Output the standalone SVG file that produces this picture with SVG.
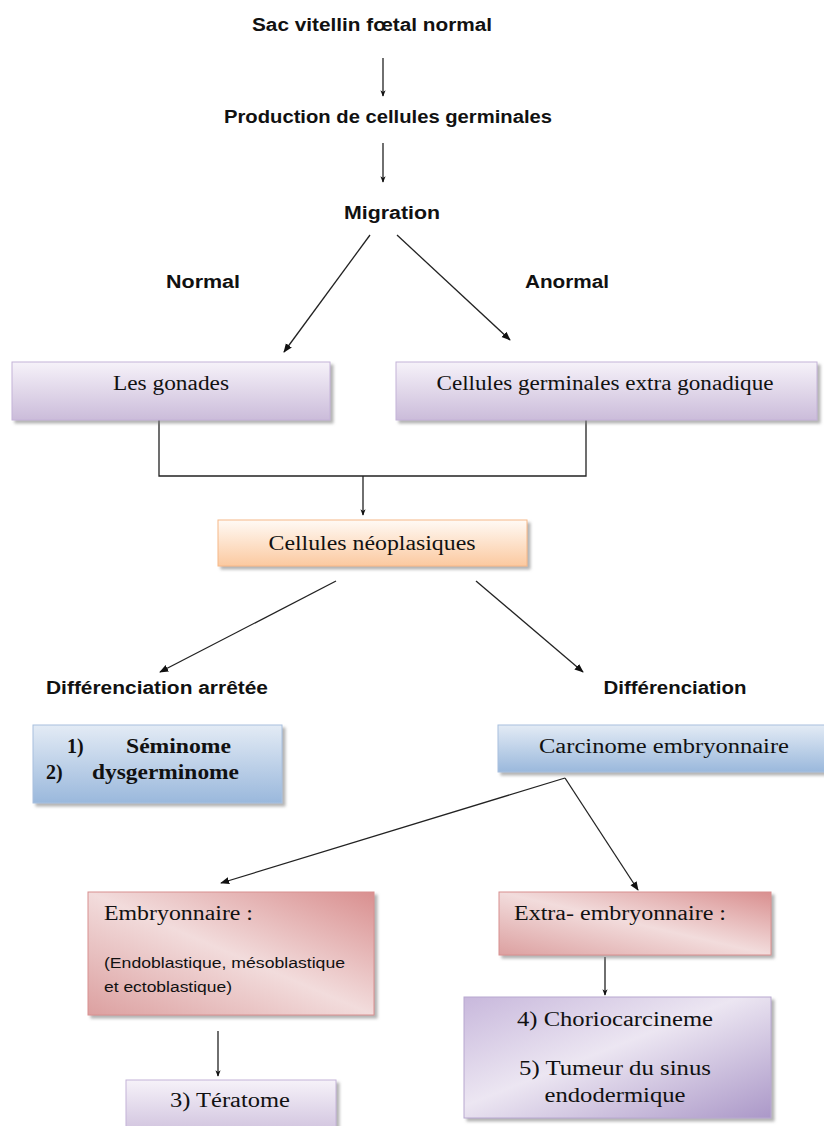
<svg xmlns="http://www.w3.org/2000/svg" width="824" height="1126" viewBox="0 0 824 1126">
<defs>
<linearGradient id="gPurple" x1="0" y1="0" x2="0" y2="1"><stop offset="0" stop-color="#f6f2f9"/><stop offset="1" stop-color="#cbbcda"/></linearGradient>
<linearGradient id="gOrange" x1="0" y1="0" x2="0" y2="1"><stop offset="0" stop-color="#fffaf5"/><stop offset="1" stop-color="#fbc9a0"/></linearGradient>
<linearGradient id="gBlue" x1="0" y1="0" x2="0" y2="1"><stop offset="0" stop-color="#e3ebf5"/><stop offset="1" stop-color="#9ab8dc"/></linearGradient>
<linearGradient id="gRed" x1="1" y1="0" x2="0" y2="1"><stop offset="0" stop-color="#d98f8f"/><stop offset="0.5" stop-color="#f2dcdc"/><stop offset="1" stop-color="#dca0a0"/></linearGradient>
<linearGradient id="gViolet" x1="0" y1="0" x2="1" y2="1"><stop offset="0" stop-color="#c8b8dc"/><stop offset="0.45" stop-color="#ece6f2"/><stop offset="1" stop-color="#ab98c8"/></linearGradient>
<filter id="sh" x="-5%" y="-5%" width="115%" height="125%"><feDropShadow dx="3" dy="3" stdDeviation="1.5" flood-color="#808080" flood-opacity="0.6"/></filter>
<marker id="ah" viewBox="0 0 10 10" refX="9" refY="5" markerWidth="7" markerHeight="7" orient="auto"><path d="M0,1 L10,5 L0,9 Z" fill="#111"/></marker>
<marker id="as" viewBox="0 0 10 10" refX="9" refY="5" markerWidth="5" markerHeight="6" orient="auto"><path d="M0,1 L10,5 L0,9 L3,5 Z" fill="#111"/></marker>
</defs>
<style>
.lbl{font-family:"Liberation Sans",Arial,sans-serif;font-weight:bold;font-size:18px;fill:#111}
.bx{font-family:"Liberation Serif","Times New Roman",serif;font-size:20px;fill:#111}
.sm{font-family:"Liberation Sans",Arial,sans-serif;font-size:14px;fill:#111}
.ln{stroke:#222;stroke-width:1.3;fill:none}
.bp{fill:url(#gPurple);stroke:#c4b3d8;stroke-width:1;filter:url(#sh)}
.bo{fill:url(#gOrange);stroke:#f6b888;stroke-width:1;filter:url(#sh)}
.bb{fill:url(#gBlue);stroke:#a8c0de;stroke-width:1;filter:url(#sh)}
.br{fill:url(#gRed);stroke:#d89090;stroke-width:1;filter:url(#sh)}
.bv{fill:url(#gViolet);stroke:#b8a8d0;stroke-width:1;filter:url(#sh)}
</style>
<g id="connectors">
<line class="ln" x1="383" y1="58" x2="383" y2="96" marker-end="url(#as)"/>
<line class="ln" x1="383" y1="143" x2="383" y2="182" marker-end="url(#as)"/>
<line class="ln" x1="370" y1="235" x2="284" y2="352" marker-end="url(#ah)"/>
<line class="ln" x1="397" y1="235" x2="510" y2="340" marker-end="url(#ah)"/>
<polyline class="ln" points="159,420 159,476 586,476 586,420"/>
<line class="ln" x1="363" y1="476" x2="363" y2="515" marker-end="url(#as)"/>
<line class="ln" x1="336" y1="581" x2="160" y2="672" marker-end="url(#ah)"/>
<line class="ln" x1="476" y1="581" x2="583" y2="672" marker-end="url(#ah)"/>
<line class="ln" x1="565" y1="778" x2="221" y2="883" marker-end="url(#ah)"/>
<line class="ln" x1="565" y1="778" x2="638" y2="890" marker-end="url(#ah)"/>
<line class="ln" x1="605" y1="957" x2="605" y2="995" marker-end="url(#as)"/>
<line class="ln" x1="218" y1="1031" x2="218" y2="1076" marker-end="url(#as)"/>
</g>
<g id="n-sac"><text class="lbl" x="372" y="31" text-anchor="middle" textLength="240" lengthAdjust="spacingAndGlyphs">Sac vitellin fœtal normal</text></g>
<g id="n-production"><text class="lbl" x="388" y="123" text-anchor="middle" textLength="328" lengthAdjust="spacingAndGlyphs">Production de cellules germinales</text></g>
<g id="n-migration"><text class="lbl" x="392" y="219" text-anchor="middle" textLength="96" lengthAdjust="spacingAndGlyphs">Migration</text></g>
<g id="n-normal"><text class="lbl" x="203" y="288" text-anchor="middle" textLength="74" lengthAdjust="spacingAndGlyphs">Normal</text></g>
<g id="n-anormal"><text class="lbl" x="567" y="288" text-anchor="middle" textLength="84" lengthAdjust="spacingAndGlyphs">Anormal</text></g>
<g id="n-gonades"><rect class="bp" x="12" y="362" width="318" height="58"/><text class="bx" x="171" y="390" text-anchor="middle" textLength="116" lengthAdjust="spacingAndGlyphs">Les gonades</text></g>
<g id="n-extra-gonadique"><rect class="bp" x="396" y="362" width="421" height="58"/><text class="bx" x="605" y="390" text-anchor="middle" textLength="337" lengthAdjust="spacingAndGlyphs">Cellules  germinales extra gonadique</text></g>
<g id="n-neoplasiques"><rect class="bo" x="218" y="520" width="309" height="46"/><text class="bx" x="372" y="550" text-anchor="middle" textLength="207" lengthAdjust="spacingAndGlyphs">Cellules néoplasiques</text></g>
<g id="n-diff-arretee"><text class="lbl" x="157" y="694" text-anchor="middle" textLength="222" lengthAdjust="spacingAndGlyphs">Différenciation arrêtée</text></g>
<g id="n-diff"><text class="lbl" x="675" y="694" text-anchor="middle" textLength="143" lengthAdjust="spacingAndGlyphs">Différenciation</text></g>
<g id="n-seminome"><rect class="bb" x="33" y="725" width="249" height="78"/>
<text class="bx" x="67" y="753" font-size="15" font-weight="bold">1)</text><text class="bx" x="126" y="753" font-weight="bold" textLength="105" lengthAdjust="spacingAndGlyphs">Séminome</text>
<text class="bx" x="46" y="779" font-size="15" font-weight="bold">2)</text><text class="bx" x="92" y="779" font-weight="bold" textLength="147" lengthAdjust="spacingAndGlyphs">dysgerminome</text></g>
<g id="n-carcinome"><rect class="bb" x="498" y="725" width="330" height="47"/><text class="bx" x="664" y="753" text-anchor="middle" textLength="250" lengthAdjust="spacingAndGlyphs">Carcinome embryonnaire</text></g>
<g id="n-embryonnaire"><rect class="br" x="88" y="892" width="286" height="123"/>
<text class="bx" x="104" y="920" textLength="149" lengthAdjust="spacingAndGlyphs">Embryonnaire :</text>
<text class="sm" x="104" y="968" textLength="241" lengthAdjust="spacingAndGlyphs">(Endoblastique, mésoblastique</text>
<text class="sm" x="104" y="992" textLength="128" lengthAdjust="spacingAndGlyphs">et ectoblastique)</text></g>
<g id="n-extra-embryonnaire"><rect class="br" x="499" y="892" width="272" height="63"/><text class="bx" x="514" y="920" textLength="212" lengthAdjust="spacingAndGlyphs">Extra- embryonnaire :</text></g>
<g id="n-choriocarcinome"><rect class="bv" x="464" y="997" width="307" height="121"/>
<text class="bx" x="615" y="1026" text-anchor="middle" textLength="196" lengthAdjust="spacingAndGlyphs">4) Choriocarcineme</text>
<text class="bx" x="615" y="1075" text-anchor="middle" textLength="192" lengthAdjust="spacingAndGlyphs">5) Tumeur du sinus</text>
<text class="bx" x="615" y="1102" text-anchor="middle" textLength="141" lengthAdjust="spacingAndGlyphs">endodermique</text></g>
<g id="n-teratome"><rect class="bp" x="126" y="1080" width="210" height="60"/><text class="bx" x="230" y="1107" text-anchor="middle" textLength="120" lengthAdjust="spacingAndGlyphs">3) Tératome</text></g>
</svg>
